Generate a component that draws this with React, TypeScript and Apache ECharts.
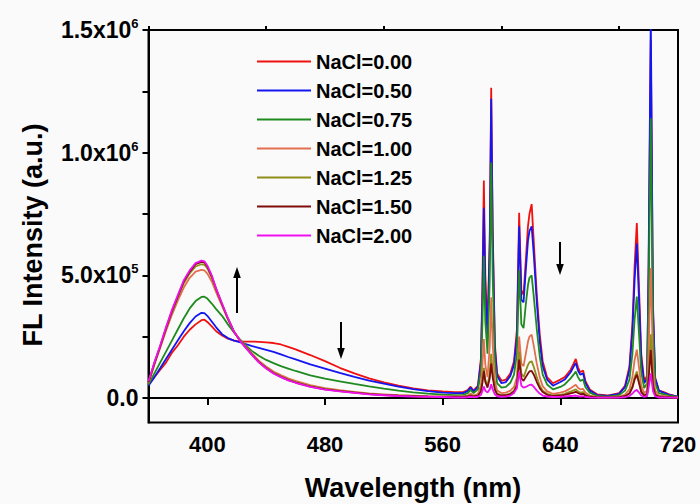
import React, { useEffect, useRef } from 'react';
import * as echarts from 'echarts';

// Emission wavelengths (nm): broad host band, then the sharp Eu3+ line region
const WAVELENGTH_NM = [
  360, 364, 368, 372, 376, 380, 384, 388, 392, 396, 398, 400, 403, 406, 410, 414, 418, 422, 426, 430,
  435, 440, 445, 450, 455, 460, 470, 480, 490, 500, 510, 520, 530, 540, 550, 560,
  568, 574, 577, 579, 581, 584, 586, 587, 588, 589, 590.5, 592, 593, 594, 595.5, 597, 600, 603, 606,
  608.5, 610.5, 612, 613.5, 615, 616.5, 618, 619, 620.5, 622, 624, 626, 628, 631, 635, 640, 643, 645,
  647, 649, 650.5, 652, 653.5, 655.5, 657, 660, 665, 672, 680, 684, 687, 689, 690.5, 692, 693.5, 695,
  697, 699, 700, 701.5, 703, 704.5, 707, 710, 714, 720,
];

// Intensities in units of 10^5 a.u., one array per NaCl content
const NACL_0_00 = [
  0.55, 0.85, 1.15, 1.45, 1.85, 2.15, 2.5, 2.78, 3.0, 3.17, 3.19, 3.1, 2.92, 2.72, 2.55, 2.42, 2.35, 2.3, 2.3, 2.3,
  2.29, 2.27, 2.24, 2.18, 2.08, 1.98, 1.75, 1.5, 1.23, 1.0, 0.8, 0.64, 0.5, 0.39, 0.31, 0.27,
  0.24, 0.24, 0.32, 0.46, 0.3, 0.5, 1.6, 4.5, 8.86, 5.0, 2.8, 6.5, 12.65, 7.0, 2.2, 1.0, 0.7, 0.75, 1.0,
  1.5, 2.8, 7.55, 4.4, 4.2, 5.6, 7.0, 7.5, 7.9, 6.3, 4.2, 2.6, 1.5, 0.85, 0.6, 0.75, 0.85, 1.0,
  1.15, 1.4, 1.59, 1.25, 1.05, 1.12, 0.7, 0.35, 0.15, 0.1, 0.2, 0.5, 1.3, 3.0, 5.4, 7.13, 4.5, 1.8,
  0.7, 0.9, 5.0, 14.6, 3.5, 0.8, 0.3, 0.25, 0.15, 0.05,
];
const NACL_0_50 = [
  0.5, 0.85, 1.22, 1.6, 1.98, 2.35, 2.72, 3.05, 3.32, 3.47, 3.46, 3.35, 3.12, 2.88, 2.6, 2.44, 2.34, 2.28, 2.2, 2.12,
  2.04, 1.96, 1.88, 1.78, 1.67, 1.57, 1.37, 1.2, 1.02, 0.86, 0.71, 0.58, 0.46, 0.36, 0.28, 0.22,
  0.2, 0.2, 0.28, 0.42, 0.27, 0.45, 1.45, 4.0, 7.75, 4.4, 2.5, 6.2, 12.2, 6.6, 2.0, 0.9, 0.6, 0.65, 0.9,
  1.35, 2.5, 7.0, 4.0, 3.9, 5.2, 6.4, 6.8, 7.0, 5.8, 3.9, 2.3, 1.3, 0.75, 0.5, 0.65, 0.75, 0.9,
  1.05, 1.27, 1.43, 1.12, 0.95, 1.0, 0.62, 0.3, 0.12, 0.08, 0.17, 0.45, 1.15, 2.7, 4.8, 6.3, 4.0, 1.6,
  0.6, 0.8, 5.5, 15.6, 3.8, 0.8, 0.3, 0.22, 0.13, 0.05,
];
const NACL_0_75 = [
  0.55, 1.0, 1.45, 1.9, 2.35, 2.8, 3.25, 3.65, 3.95, 4.12, 4.13, 4.05, 3.85, 3.62, 3.35, 3.0, 2.68, 2.4, 2.15, 1.93,
  1.72, 1.55, 1.42, 1.3, 1.2, 1.1, 0.92, 0.79, 0.68, 0.57, 0.47, 0.38, 0.3, 0.23, 0.18, 0.14,
  0.12, 0.13, 0.2, 0.33, 0.2, 0.35, 1.1, 3.0, 5.8, 3.1, 1.8, 4.8, 9.6, 5.0, 1.5, 0.6, 0.42, 0.45, 0.62,
  0.95, 1.8, 5.2, 3.0, 2.85, 3.8, 4.6, 4.9, 5.0, 4.1, 2.8, 1.7, 0.95, 0.55, 0.35, 0.45, 0.55, 0.68,
  0.8, 0.95, 1.08, 0.85, 0.7, 0.75, 0.45, 0.22, 0.08, 0.05, 0.12, 0.3, 0.75, 1.8, 3.2, 4.13, 2.6, 1.05,
  0.4, 0.6, 4.0, 11.4, 2.8, 0.6, 0.2, 0.16, 0.1, 0.04,
];
const NACL_1_00 = [
  0.6, 1.35, 2.05, 2.75, 3.4, 3.98, 4.5, 4.9, 5.15, 5.22, 5.2, 5.07, 4.75, 4.3, 3.75, 3.2, 2.72, 2.37, 2.1, 1.84,
  1.52, 1.28, 1.08, 0.93, 0.8, 0.7, 0.52, 0.4, 0.32, 0.25, 0.19, 0.15, 0.11, 0.09, 0.07, 0.06,
  0.06, 0.07, 0.1, 0.18, 0.1, 0.17, 0.5, 1.3, 2.4, 1.35, 0.85, 2.1, 4.1, 2.2, 0.7, 0.3, 0.2, 0.22, 0.3,
  0.45, 0.85, 2.5, 1.4, 1.3, 1.8, 2.3, 2.5, 2.58, 2.1, 1.4, 0.85, 0.48, 0.27, 0.17, 0.22, 0.27, 0.33,
  0.4, 0.48, 0.54, 0.42, 0.35, 0.37, 0.22, 0.1, 0.04, 0.03, 0.06, 0.14, 0.35, 0.85, 1.55, 1.97, 1.25, 0.5,
  0.2, 0.3, 1.9, 5.3, 1.3, 0.3, 0.1, 0.08, 0.05, 0.02,
];
const NACL_1_25 = [
  0.62, 1.4, 2.1, 2.82, 3.5, 4.1, 4.68, 5.08, 5.36, 5.45, 5.43, 5.28, 4.9, 4.4, 3.8, 3.22, 2.71, 2.36, 2.07, 1.8,
  1.48, 1.23, 1.03, 0.88, 0.75, 0.65, 0.48, 0.37, 0.29, 0.23, 0.17, 0.13, 0.1, 0.08, 0.06, 0.05,
  0.05, 0.05, 0.07, 0.12, 0.07, 0.1, 0.3, 0.7, 1.23, 0.75, 0.5, 1.0, 1.8, 1.05, 0.4, 0.18, 0.12, 0.13, 0.18,
  0.3, 0.6, 1.9, 1.0, 0.85, 1.1, 1.35, 1.45, 1.5, 1.25, 0.85, 0.5, 0.3, 0.17, 0.1, 0.13, 0.17, 0.22,
  0.26, 0.31, 0.35, 0.27, 0.22, 0.24, 0.14, 0.07, 0.03, 0.02, 0.04, 0.08, 0.2, 0.48, 0.85, 1.08, 0.7, 0.28,
  0.12, 0.18, 0.95, 2.6, 0.65, 0.16, 0.06, 0.05, 0.03, 0.02,
];
const NACL_1_50 = [
  0.64, 1.42, 2.12, 2.86, 3.55, 4.15, 4.75, 5.15, 5.45, 5.55, 5.52, 5.36, 4.96, 4.45, 3.83, 3.24, 2.71, 2.35, 2.06, 1.79,
  1.46, 1.21, 1.01, 0.86, 0.73, 0.63, 0.46, 0.35, 0.28, 0.22, 0.16, 0.12, 0.09, 0.07, 0.05, 0.04,
  0.04, 0.04, 0.06, 0.1, 0.06, 0.09, 0.26, 0.6, 1.1, 0.65, 0.42, 0.8, 1.4, 0.85, 0.33, 0.15, 0.1, 0.11, 0.15,
  0.26, 0.5, 1.56, 0.8, 0.7, 0.85, 1.0, 1.08, 1.1, 0.95, 0.65, 0.4, 0.24, 0.13, 0.08, 0.1, 0.13, 0.16,
  0.19, 0.22, 0.25, 0.2, 0.16, 0.17, 0.1, 0.05, 0.02, 0.02, 0.03, 0.07, 0.18, 0.42, 0.75, 0.95, 0.6, 0.24,
  0.1, 0.15, 0.75, 1.95, 0.5, 0.12, 0.05, 0.04, 0.03, 0.01,
];
const NACL_2_00 = [
  0.68, 1.45, 2.15, 2.9, 3.6, 4.2, 4.8, 5.2, 5.5, 5.6, 5.57, 5.4, 5.0, 4.45, 3.85, 3.25, 2.72, 2.35, 2.05, 1.78,
  1.45, 1.2, 1.0, 0.85, 0.72, 0.62, 0.45, 0.34, 0.27, 0.21, 0.15, 0.11, 0.08, 0.06, 0.05, 0.04,
  0.02, 0.02, 0.03, 0.05, 0.03, 0.05, 0.12, 0.28, 0.47, 0.3, 0.22, 0.35, 0.56, 0.35, 0.15, 0.07, 0.05, 0.06, 0.1,
  0.2, 0.4, 1.07, 0.5, 0.42, 0.45, 0.5, 0.53, 0.54, 0.45, 0.3, 0.18, 0.1, 0.06, 0.04, 0.05, 0.06, 0.07,
  0.08, 0.09, 0.1, 0.08, 0.06, 0.07, 0.04, 0.02, 0.01, 0.01, 0.01, 0.03, 0.08, 0.18, 0.28, 0.33, 0.22, 0.1,
  0.04, 0.07, 0.4, 1.0, 0.28, 0.06, 0.02, 0.02, 0.01, 0.01,
];

const SERIES_NAMES = ['NaCl=0.00', 'NaCl=0.50', 'NaCl=0.75', 'NaCl=1.00', 'NaCl=1.25', 'NaCl=1.50', 'NaCl=2.00'];
const SERIES_VALUES = [NACL_0_00, NACL_0_50, NACL_0_75, NACL_1_00, NACL_1_25, NACL_1_50, NACL_2_00];
const SERIES_COLORS = ['#f01010', '#1515f0', '#1f8a1f', '#e2704f', '#8e8e18', '#800c0c', '#f010f0'];
const UNIT = 1e5;

// Axis ticks and labels
const X_LABELS = [400, 480, 560, 640, 720];
const X_MINOR_TICKS = [360, 440, 520, 600, 680];
const Y_LABELS = [0, 5e5, 1e6, 1.5e6];
const Y_TICKS = [0, 2.5e5, 5e5, 7.5e5, 1e6, 1.25e6, 1.5e6];

const FONT = '"Liberation Sans", Arial, sans-serif';

function arrow(x: number, yTail: number, yTip: number) {
  const dir = yTip < yTail ? -1 : 1;
  const headLen = 11;
  const headHalf = 3.8;
  return {
    type: 'group',
    children: [
      {
        type: 'line',
        shape: { x1: x, y1: yTail, x2: x, y2: yTip - dir * (headLen - 2) },
        style: { stroke: '#000', lineWidth: 2 },
      },
      {
        type: 'polygon',
        shape: {
          points: [
            [x - headHalf, yTip - dir * headLen],
            [x + headHalf, yTip - dir * headLen],
            [x, yTip],
          ],
        },
        style: { fill: '#000' },
      },
    ],
  };
}

function yLabel(v: number) {
  if (v === 0) return '{m|0.0}';
  const exp = Math.floor(Math.log10(v) + 1e-9);
  const mant = v / Math.pow(10, exp);
  return `{m|${mant.toFixed(1)}x10}{e|${exp}}`;
}

export default function App() {
  const ref = useRef<HTMLDivElement>(null);

  useEffect(() => {
    if (!ref.current) return;
    const chart = echarts.init(ref.current, undefined, { renderer: 'svg' });

    const series = SERIES_NAMES.map((name, i) => ({
      name,
      type: 'line',
      xAxisIndex: 0,
      yAxisIndex: 0,
      symbol: 'none',
      showSymbol: false,
      clip: true,
      color: SERIES_COLORS[i],
      lineStyle: { width: 1.8, color: SERIES_COLORS[i] },
      data: WAVELENGTH_NM.map((nm, k) => [nm, SERIES_VALUES[i][k] * UNIT]),
    }));

    chart.setOption({
      animation: false,
      backgroundColor: '#fafafa',
      grid: {
        left: 148.5,
        right: 22,
        top: 30,
        bottom: 81.5,
        show: true,
        borderColor: '#000',
        borderWidth: 2,
        backgroundColor: 'transparent',
      },
      legend: {
        orient: 'vertical',
        left: 252,
        top: 46.5,
        icon: 'rect',
        itemWidth: 54,
        itemHeight: 2,
        itemGap: 9,
        data: SERIES_NAMES,
        textStyle: { fontFamily: FONT, fontSize: 20, fontWeight: 'bold', color: '#000' },
      },
      xAxis: [
        {
          type: 'value',
          min: 360,
          max: 720,
          axisLine: { lineStyle: { color: '#000', width: 2 } },
          axisTick: { customValues: X_LABELS, length: 7, inside: false, lineStyle: { color: '#000', width: 2 } },
          axisLabel: {
            customValues: X_LABELS,
            margin: 11,
            fontFamily: FONT,
            fontSize: 22,
            fontWeight: 'bold',
            color: '#000',
          },
          splitLine: { show: false },
        },
        {
          type: 'value',
          min: 360,
          max: 720,
          axisLine: { show: false },
          axisTick: { customValues: X_MINOR_TICKS, length: 4, lineStyle: { color: '#000', width: 2 } },
          axisLabel: { show: false },
          splitLine: { show: false },
        },
      ],
      yAxis: {
        type: 'value',
        min: -1e5,
        max: 1.5e6,
        axisLine: { show: true, lineStyle: { color: '#000', width: 2 } },
        axisTick: { show: true, customValues: Y_TICKS, length: 6, lineStyle: { color: '#000', width: 2 } },
        axisLabel: {
          customValues: Y_LABELS,
          margin: 10,
          formatter: yLabel,
          rich: {
            m: { fontFamily: FONT, fontSize: 23, fontWeight: 'bold', color: '#000' },
            e: {
              fontFamily: FONT,
              fontSize: 13,
              fontWeight: 'bold',
              color: '#000',
              verticalAlign: 'bottom',
              padding: [0, 0, 13, 0],
            },
          },
        },
        splitLine: { show: false },
      },
      graphic: [
        {
          type: 'text',
          x: 413,
          y: 488,
          style: {
            text: 'Wavelength (nm)',
            fontFamily: FONT,
            fontSize: 27,
            fontWeight: 'bold',
            fill: '#000',
            align: 'center',
            verticalAlign: 'middle',
          },
        },
        {
          type: 'text',
          x: 33,
          y: 235,
          rotation: Math.PI / 2,
          style: {
            text: 'FL Intensity (a.u.)',
            fontFamily: FONT,
            fontSize: 27,
            fontWeight: 'bold',
            fill: '#000',
            align: 'center',
            verticalAlign: 'middle',
          },
        },
        arrow(237, 313, 267),
        arrow(341, 322, 359),
        arrow(560, 242, 275),
      ],
      series,
    });

    return () => chart.dispose();
  }, []);

  return (
    <div
      ref={ref}
      style={{ position: 'fixed', left: 0, top: 0, width: 700, height: 504 }}
    />
  );
}
